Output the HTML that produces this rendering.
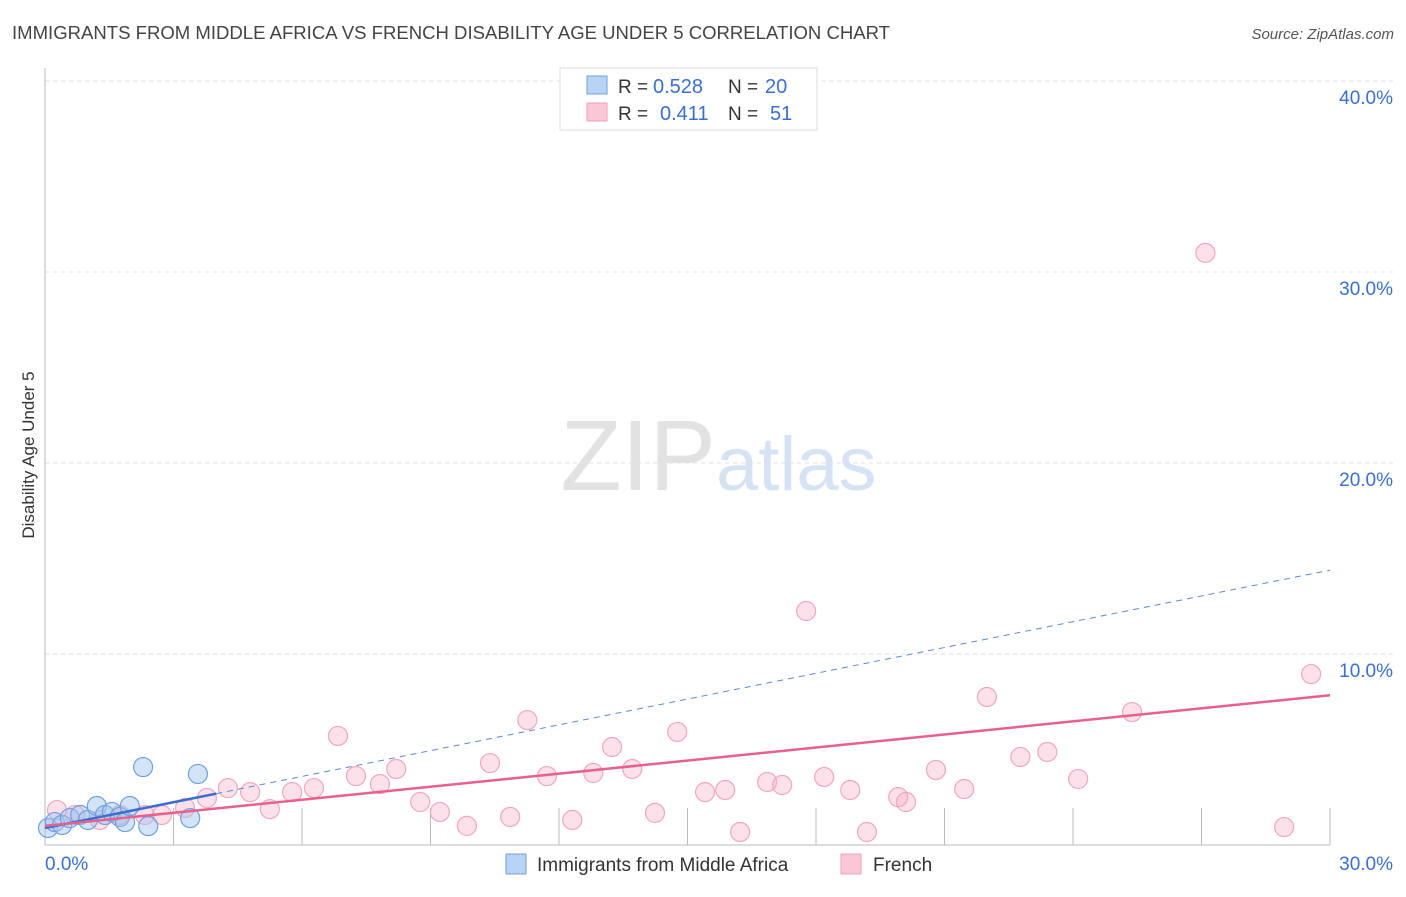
<!DOCTYPE html>
<html><head><meta charset="utf-8"><style>
body{margin:0;background:#fff;font-family:"Liberation Sans",sans-serif}
svg text{font-family:"Liberation Sans",sans-serif}
</style></head><body>
<svg id="chart" width="1406" height="892">
<text x="12" y="39" font-size="18" fill="#444" textLength="878" lengthAdjust="spacingAndGlyphs">IMMIGRANTS FROM MIDDLE AFRICA VS FRENCH DISABILITY AGE UNDER 5 CORRELATION CHART</text>
<text x="1394" y="39" font-size="15" fill="#555" text-anchor="end" font-style="italic">Source: ZipAtlas.com</text>
<text x="34" y="455" font-size="17" fill="#333" text-anchor="middle" transform="rotate(-90 34 455)">Disability Age Under 5</text>
<text x="716" y="490" font-size="100" fill="#e2e2e2" text-anchor="end" font-family="Liberation Serif">ZIP</text>
<text x="716" y="490" font-size="76" fill="#d6e3f5">atlas</text>
<g id="grid"></g><g id="pts"></g><g id="lines"></g>
<g>
<rect x="560" y="68" width="257" height="62" fill="#fff" stroke="#ddd"/>
<rect x="587" y="76" width="20" height="18" fill="#b9d3f5" stroke="#6fa0e0"/>
<rect x="587" y="103" width="20" height="18" fill="#f9c7d6" stroke="#f0a0b8"/>
<text x="618" y="93" font-size="19" fill="#333">R =</text>
<text x="653" y="93" font-size="20" fill="#3a6fd0">0.528</text>
<text x="728" y="93" font-size="19" fill="#333">N =</text>
<text x="765" y="93" font-size="20" fill="#3a6fd0">20</text>
<text x="618" y="120" font-size="19" fill="#333">R =</text>
<text x="660" y="120" font-size="20" fill="#3a6fd0">0.411</text>
<text x="728" y="120" font-size="19" fill="#333">N =</text>
<text x="770" y="120" font-size="20" fill="#3a6fd0">51</text>
</g>
<g>
<rect x="506" y="854" width="20" height="20" fill="#b9d3f5" stroke="#6fa0e0"/>
<text x="537" y="871" font-size="19" fill="#333">Immigrants from Middle Africa</text>
<rect x="841" y="854" width="20" height="20" fill="#f9c7d6" stroke="#f0a0b8"/>
<text x="873" y="871" font-size="19" fill="#333">French</text>
</g>
</svg>
<script>
const yTicks=[10,20,30,40];
const yTickLabels=["10.0%","20.0%","30.0%","40.0%"];
const xTickLabels=["0.0%","30.0%"];
const blueX=[0.07,0.23,0.40,0.58,0.82,1.00,1.21,1.40,1.56,1.75,1.87,1.98,2.29,2.41,3.39,3.57];
const blueY=[0.89,1.20,1.05,1.41,1.57,1.31,2.04,1.57,1.73,1.47,1.20,2.04,4.08,0.99,1.41,3.72];
const pinkX=[0.28,0.70,1.28,1.75,2.33,2.73,3.27,3.78,4.27,4.79,5.25,5.77,6.28,6.84,7.26,7.82,8.20,8.76,9.22,9.85,10.39,10.86,11.26,11.72,12.31,12.80,13.24,13.71,14.24,14.76,15.41,15.88,16.23,16.86,17.21,17.77,18.19,18.80,19.19,19.92,20.10,20.80,21.46,21.99,22.77,23.40,24.12,25.38,27.09,28.93,29.56];
const pinkY=[1.83,1.57,1.31,1.57,1.57,1.57,1.94,2.46,2.98,2.77,1.88,2.77,2.98,5.71,3.61,3.19,3.98,2.25,1.73,1.00,4.29,1.47,6.54,3.61,1.31,3.77,5.13,3.98,1.68,5.92,2.77,2.88,0.68,3.30,3.14,12.25,3.56,2.88,0.68,2.51,2.25,3.93,2.93,7.75,4.61,4.87,3.46,6.96,31.0,0.94,8.95];
const blueTrend=[0.89,0.45];
const pinkTrend=[1.0,0.228];
const NS="http://www.w3.org/2000/svg";
const X=v=>45+v/30*1285, Y=v=>845-v*19.1;
function mk(p,t,a){const e=document.createElementNS(NS,t);for(const k in a)e.setAttribute(k,a[k]);p.appendChild(e);return e;}
const g=document.getElementById('grid');
yTicks.forEach((t,i)=>{
 const l=mk(g,'line',{x1:45,x2:1394,y1:Y(t),y2:Y(t),stroke:'#e2e2e2','stroke-dasharray':'4 4'});
 
 
 const tx=mk(g,'text',{x:1393,y:Y(t)+23,'font-size':19,fill:'#3a6fd0','text-anchor':'end'});
 tx.textContent=yTickLabels[i];
 
 
});
const ax=mk(g,'line',{x1:45,x2:45,y1:68,y2:845,stroke:'#bbb'});


const bx=mk(g,'line',{x1:45,x2:1330,y1:845,y2:845,stroke:'#bbb'});


for(let i=1;i<=10;i++){const t=mk(g,'line',{x1:X(i*3),x2:X(i*3),y1:808,y2:845,stroke:'#bbb'});
 
 }
[[0,'start',45],[30,'end',1393]].forEach((d,i)=>{const t=mk(g,'text',{x:d[2],y:870,'font-size':19,fill:'#3a6fd0','text-anchor':d[1]});t.textContent=xTickLabels[i];
 
 });
const P=document.getElementById('pts');
pinkX.forEach((x,i)=>{const c=mk(P,'circle',{cx:X(x),cy:Y(pinkY[i]),r:9.5,fill:'rgba(246,170,195,0.35)',stroke:'#f2a6bf','stroke-width':1.2});
 
 });
blueX.forEach((x,i)=>{const c=mk(P,'circle',{cx:X(x),cy:Y(blueY[i]),r:9.5,fill:'rgba(160,195,240,0.45)',stroke:'#6fa0e0','stroke-width':1.2});
 
 });
const L=document.getElementById('lines');
const bl=mk(L,'line',{x1:X(0),y1:Y(blueTrend[0]),x2:X(4),y2:Y(blueTrend[0]+blueTrend[1]*4),stroke:'#3a6fd0','stroke-width':2.5});


const bd=mk(L,'line',{x1:X(4),y1:Y(blueTrend[0]+blueTrend[1]*4),x2:X(30),y2:Y(blueTrend[0]+blueTrend[1]*30),stroke:'#5a8ad8','stroke-width':1,'stroke-dasharray':'6 5'});


const pl=mk(L,'line',{x1:X(0),y1:Y(pinkTrend[0]),x2:X(30),y2:Y(pinkTrend[0]+pinkTrend[1]*30),stroke:'#e8608e','stroke-width':2.5});


</script>
</body></html>
